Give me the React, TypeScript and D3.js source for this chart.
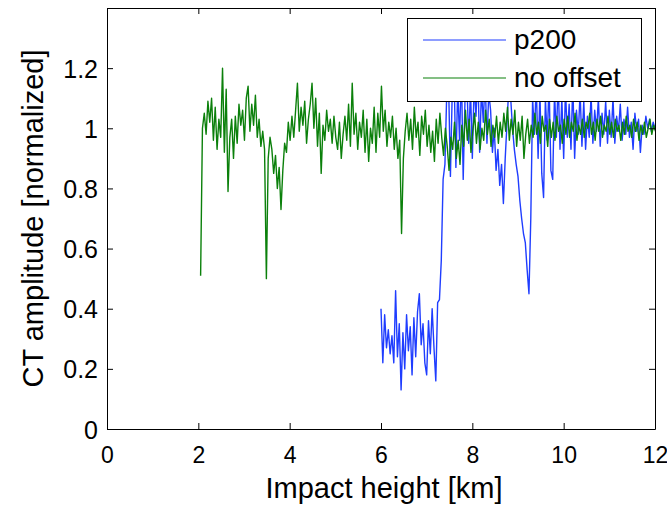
import React, { useEffect, useRef } from "react";
import * as d3 from "d3";

// sampling of both traces (km)
const GREEN_START = 2.05;
const BLUE_START = 6.0;
const STEP = 0.04;

// "no offset" trace, one row per km
const greenValues = [
  0.51, 1.0, 1.05, 0.98, 1.09, 1.02, 1.1, 0.96, 1.07, 0.93, 1.03, 0.97, 1.2, 0.92, 1.13, 0.79, 0.97, 1.03, 0.9, 1.04, 0.95, 1.08, 1.01, 1.06, 0.96,
  1.1, 1.14, 0.99, 1.08, 1.01, 1.11, 0.97, 1.03, 0.94, 0.99, 0.93, 0.5, 0.9, 0.97, 0.93, 0.85, 0.91, 0.8, 0.87, 0.73, 0.86, 0.95, 0.92, 1.02, 0.96,
  1.04, 0.97, 1.06, 1.15, 0.99, 1.07, 1.01, 1.09, 0.95, 1.03, 1.08, 1.15, 1.0, 1.1, 0.94, 1.05, 0.85, 1.01, 0.96, 1.06, 0.99, 1.03, 0.95, 1.04, 0.97,
  0.93, 1.02, 0.9, 0.98, 1.04, 0.96, 1.08, 0.94, 1.15, 0.98, 1.05, 0.93, 1.02, 0.97, 1.06, 0.92, 1.03, 0.89, 1.0, 0.95, 1.07, 0.92, 1.05, 0.97, 1.14,
  0.99, 1.06, 0.94, 1.02, 0.97, 1.04, 0.93, 1.0, 0.9, 0.96, 0.65, 0.9, 0.99, 1.05, 0.96, 1.03, 0.93, 1.07, 0.97, 1.02, 0.91, 1.04, 0.98, 1.06, 0.94,
  1.01, 0.92, 0.99, 0.89, 1.03, 0.95, 1.05, 0.97, 0.91, 1.0, 0.94, 0.86, 0.97, 0.93, 1.02, 0.9, 0.96, 0.88, 1.01, 0.94, 1.06, 0.96, 1.03, 0.92, 0.99,
  1.05, 0.95, 1.02, 0.93, 1.0, 0.96, 1.06, 0.98, 1.03, 0.94, 1.01, 0.97, 1.04, 0.95, 1.02, 0.97, 1.05, 0.99, 1.07, 0.96, 1.03, 0.98, 1.06, 0.94, 1.02,
  0.96, 1.04, 0.9, 0.98, 1.03, 0.95, 1.01, 0.97, 1.05, 0.98, 1.02, 0.95, 1.04, 0.99, 1.01, 0.94, 1.03, 0.97, 1.02, 0.96, 1.04, 0.99, 1.01, 0.95, 1.03,
  0.98, 1.04, 0.97, 1.02, 0.99, 1.05, 0.96, 1.01, 0.98, 1.03, 0.97, 1.02, 1.0, 1.05, 0.98, 1.02, 0.96, 1.03, 0.99, 1.04, 0.97, 1.01, 0.99, 1.04, 0.98,
  1.02, 0.97, 1.03, 0.99, 1.01, 0.96, 1.02, 0.98, 1.04, 0.99, 1.01, 0.97, 1.03, 0.99, 1.02, 0.96, 1.01, 0.98, 1.02, 0.97, 1.0, 1.03, 0.98, 1.01, 0.99,
];

// "p200" trace
const blueValues = [
  0.4, 0.22, 0.38, 0.27, 0.33, 0.25, 0.31, 0.22, 0.46, 0.24, 0.35, 0.13, 0.32, 0.2, 0.38, 0.26, 0.34, 0.18, 0.37, 0.24, 0.39, 0.45, 0.28, 0.35, 0.22,
  0.18, 0.36, 0.25, 0.4, 0.27, 0.16, 0.42, 0.43, 0.56, 0.83, 0.88, 1.12, 1.15, 0.84, 1.12, 1.18, 0.87, 1.14, 0.96, 1.2, 0.83, 1.1, 1.16, 0.95, 1.13,
  0.9, 1.15, 1.04, 1.19, 0.92, 1.13, 1.02, 1.17, 0.95, 1.12, 1.06, 0.92, 1.0, 0.86, 0.93, 0.81, 0.88, 0.75, 0.9, 1.02, 1.14, 1.1, 1.0, 0.93, 0.88,
  0.84, 0.76, 0.7, 0.65, 0.62, 0.53, 0.45, 0.7, 1.1, 0.98, 1.15, 0.9, 1.12, 0.85, 0.77, 1.1, 0.96, 1.15, 0.86, 0.83, 1.12, 0.97, 1.16, 0.93, 1.1,
  0.9, 1.13, 0.97, 1.08, 0.93, 1.15, 0.9, 1.06, 0.98, 1.12, 0.94, 1.09, 0.93, 1.04, 0.97, 1.11, 0.95, 1.06, 0.99, 1.1, 0.94, 1.05, 0.98, 1.09, 0.95,
  1.06, 0.97, 1.1, 0.95, 1.04, 0.99, 1.08, 0.96, 1.03, 0.98, 1.07, 0.97, 1.02, 0.93, 1.05, 0.99, 1.03, 0.92, 1.01, 0.98, 1.04, 1.0, 1.03, 0.99, 1.02, 1.0,
];

const seriesNames = ["p200", "no offset"];
const seriesColors = ["#1f3dff", "#0b800b"];
const xTicks = [0, 2, 4, 6, 8, 10, 12];
const yTicks = [0, 0.2, 0.4, 0.6, 0.8, 1, 1.2];
const yTickLabels = ["0", "0.2", "0.4", "0.6", "0.8", "1", "1.2"];

const FONT = "'Liberation Sans', Arial, Helvetica, sans-serif";

export default function App() {
  const svgRef = useRef<SVGSVGElement>(null);

  useEffect(() => {
    const width = 667;
    const height = 507;
    const svg = d3.select(svgRef.current);
    svg.selectAll("*").remove();

    const margin = { top: 8, right: 12, bottom: 78, left: 107 };
    const x = d3.scaleLinear().domain([0, 12]).range([margin.left, width - margin.right]);
    const y = d3.scaleLinear().domain([0, 1.4]).range([height - margin.bottom, margin.top]);

    svg.append("defs").append("clipPath").attr("id", "plot-clip")
      .append("rect")
      .attr("x", x(0)).attr("y", y(1.4))
      .attr("width", x(12) - x(0)).attr("height", y(0) - y(1.4));

    // --- traces (p200 first, no offset on top) ---
    const traces = [
      { start: BLUE_START, values: blueValues, color: seriesColors[0] },
      { start: GREEN_START, values: greenValues, color: seriesColors[1] },
    ];
    const plot = svg.append("g").attr("clip-path", "url(#plot-clip)");
    traces.forEach(t => {
      const line = d3.line<number>()
        .x((_, i) => x(t.start + i * STEP))
        .y(v => y(v));
      plot.append("path")
        .datum(t.values)
        .attr("fill", "none")
        .attr("stroke", t.color)
        .attr("stroke-width", 1.4)
        .attr("stroke-linejoin", "round")
        .attr("d", line);
    });

    // --- axes (box with inward ticks) ---
    const bottom = svg.append("g")
      .attr("transform", `translate(0,${y(0)})`)
      .call(d3.axisBottom(x).tickValues(xTicks).tickSizeInner(-6).tickSizeOuter(0).tickFormat(d3.format("d")));
    bottom.attr("font-size", 23).attr("font-family", FONT);
    bottom.selectAll("text").attr("y", 34).attr("dy", null).attr("fill", "#000");

    const left = svg.append("g")
      .attr("transform", `translate(${x(0)},0)`)
      .call(d3.axisLeft(y).tickValues(yTicks).tickSizeInner(-6).tickSizeOuter(0)
        .tickFormat((_, i) => yTickLabels[i]));
    left.attr("font-size", 25).attr("font-family", FONT);
    left.selectAll("text").attr("x", -9).attr("dy", "0.36em").attr("fill", "#000");

    svg.append("g")
      .attr("transform", `translate(0,${y(1.4)})`)
      .call(d3.axisTop(x).tickValues(xTicks).tickSizeInner(-6).tickSizeOuter(0).tickFormat(() => ""));

    svg.append("g")
      .attr("transform", `translate(${x(12)},0)`)
      .call(d3.axisRight(y).tickValues(yTicks).tickSizeInner(-6).tickSizeOuter(0).tickFormat(() => ""));

    // --- axis labels ---
    svg.append("text")
      .attr("x", (x(0) + x(12)) / 2 + 3)
      .attr("y", 498)
      .attr("text-anchor", "middle")
      .attr("font-family", FONT)
      .attr("font-size", 29)
      .attr("fill", "#000")
      .text("Impact height [km]");

    svg.append("text")
      .attr("transform", `translate(43,${(y(0) + y(1.4)) / 2}) rotate(-90)`)
      .attr("text-anchor", "middle")
      .attr("font-family", FONT)
      .attr("font-size", 29)
      .attr("fill", "#000")
      .text("CT amplitude [normalized]");

    // --- legend ---
    const legend = svg.append("g").attr("transform", "translate(407,18)");
    legend.append("rect")
      .attr("x", 0.5).attr("y", 0.5)
      .attr("width", 234).attr("height", 83)
      .attr("fill", "#fff")
      .attr("stroke", "#000");
    seriesNames.forEach((name, i) => {
      const ly = 22 + i * 38;
      legend.append("line")
        .attr("x1", 16).attr("x2", 99)
        .attr("y1", ly).attr("y2", ly)
        .attr("stroke", seriesColors[i])
        .attr("stroke-width", 1.2);
      legend.append("text")
        .attr("x", 107)
        .attr("y", ly + 9)
        .attr("font-family", FONT)
        .attr("font-size", 28)
        .attr("fill", "#000")
        .text(name);
    });
  }, []);

  return (
    <svg
      ref={svgRef}
      width={667}
      height={507}
      style={{ position: "absolute", left: 0, top: 0, background: "#fff" }}
    />
  );
}
